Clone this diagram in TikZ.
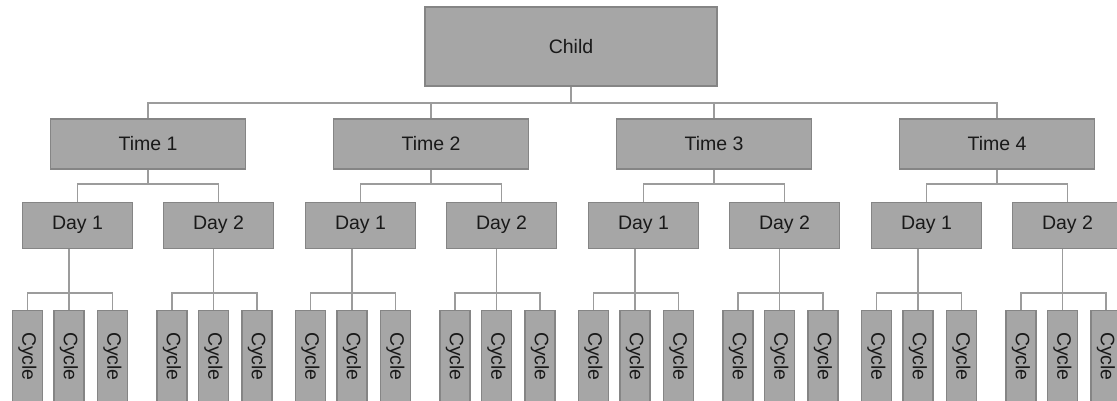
\documentclass[tikz,border=0pt]{standalone}
\usepackage{fontspec}
\setmainfont{Liberation Sans}
\usetikzlibrary{positioning}

\definecolor{boxgray}{HTML}{A6A6A6}
\definecolor{edgegray}{HTML}{858585}
\definecolor{linkgray}{HTML}{9C9C9C}

\begin{document}
\begin{tikzpicture}[
    x=1pt, y=-1pt,
    box/.style={draw=edgegray, fill=boxgray, line width=1.2pt, inner sep=0pt,
                text=black!90, font=\fontsize{19.5}{23}\selectfont},
    root/.style={box, minimum width=292pt, minimum height=79pt},
    time/.style={box, minimum width=195pt, minimum height=50pt},
    day/.style={box, minimum width=110pt, minimum height=46pt},
    cycle/.style={box, minimum width=30pt, minimum height=92pt},
    link/.style={draw=linkgray, line width=1.3pt},
]

\useasboundingbox (0,0) rectangle (1117,400);
\clip (0,0) rectangle (1117,400);

% bus heights
\coordinate (topbus) at (0,103);
\coordinate (timebus) at (0,184);
\coordinate (cyclebus) at (0,293);

%----------------------------------
% Child
%----------------------------------
\node[root] (child) at (571,46.5) {Child};

%----------------------------------
% Times, days and cycles
%----------------------------------
\foreach \i/\x in {1/148,2/431,3/714,4/997}{
    \node[time] (t\i) at (\x,144) {Time \i};
    \draw[link] (child.south) |- (topbus -| t\i.north) -- (t\i.north);

    \foreach \j/\dx/\cs in {1/-70.5/-8.5,2/70.5/-5}{
        \node[day,below=32pt of t\i,xshift=\dx pt] (t\i-d\j) {Day \j};
        \draw[link] (t\i.south) |- (timebus -| t\i-d\j.north) -- (t\i-d\j.north);

        \foreach \k/\cx in {1/-41.5,2/0,3/43.5}{
            \node[cycle,below=61pt of t\i-d\j,xshift=\cs pt+\cx pt] (t\i-d\j-c\k) {\rotatebox{-90}{Cycle}};
        }

        \draw[link] (t\i-d\j.south -| t\i-d\j-c2.north) -- (t\i-d\j-c2.north);
        \draw[link] (t\i-d\j-c1.north) |- (cyclebus -| t\i-d\j-c2.north) -| (t\i-d\j-c3.north);
    }
}

\end{tikzpicture}
\end{document}
